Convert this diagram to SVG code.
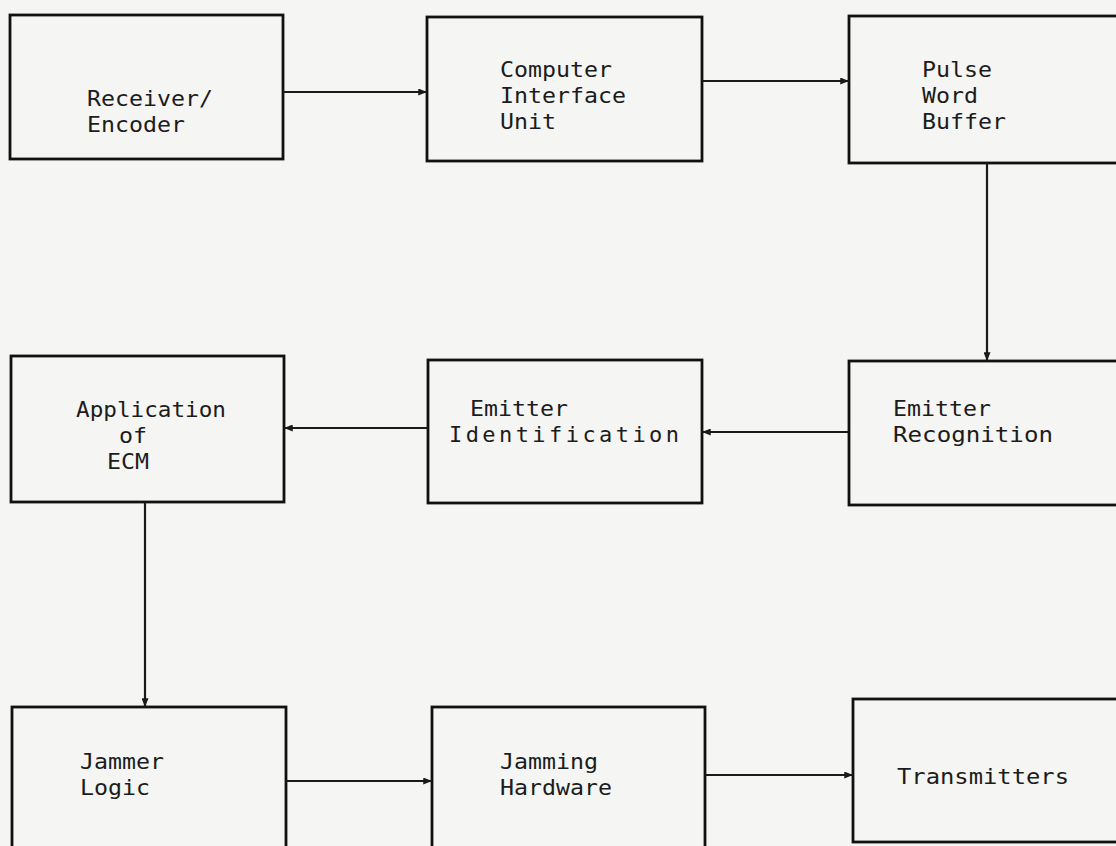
<svg xmlns="http://www.w3.org/2000/svg" width="1116" height="846" viewBox="0 0 1116 846">
<style>
.box{fill:none;stroke:#111;stroke-width:2.8}
.t{font-family:"DejaVu Sans Mono","Liberation Mono",monospace;font-size:22px;fill:#1c1c1c}
.c{stroke:#1a1a1a;stroke-width:2.2;fill:none;marker-end:url(#ah)}
</style>
<defs>
<marker id="ah" viewBox="0 0 10 8" refX="10" refY="4" markerWidth="10" markerHeight="7" markerUnits="userSpaceOnUse" orient="auto">
<path d="M0,0 L10,4 L0,8 z" fill="#1a1a1a"/>
</marker>
</defs>
<rect width="1116" height="846" fill="#f5f5f3"/>
<g id="n1"><rect class="box" x="10" y="15" width="273" height="144"/><text class="t" x="87" y="106" textLength="126" lengthAdjust="spacingAndGlyphs">Receiver/</text><text class="t" x="87" y="132" textLength="98" lengthAdjust="spacingAndGlyphs">Encoder</text></g>
<g id="n2"><rect class="box" x="427" y="17" width="275" height="144"/><text class="t" x="500" y="77" textLength="112" lengthAdjust="spacingAndGlyphs">Computer</text><text class="t" x="500" y="103" textLength="126" lengthAdjust="spacingAndGlyphs">Interface</text><text class="t" x="500" y="129" textLength="56" lengthAdjust="spacingAndGlyphs">Unit</text></g>
<g id="n3"><rect class="box" x="849" y="16" width="290" height="147"/><text class="t" x="922" y="77" textLength="70" lengthAdjust="spacingAndGlyphs">Pulse</text><text class="t" x="922" y="103" textLength="56" lengthAdjust="spacingAndGlyphs">Word</text><text class="t" x="922" y="129" textLength="84" lengthAdjust="spacingAndGlyphs">Buffer</text></g>
<g id="n4"><rect class="box" x="11" y="356" width="273" height="146"/><text class="t" x="76" y="417" textLength="150" lengthAdjust="spacingAndGlyphs">Application</text><text class="t" x="119" y="443" textLength="28" lengthAdjust="spacingAndGlyphs">of</text><text class="t" x="107" y="469" textLength="42" lengthAdjust="spacingAndGlyphs">ECM</text></g>
<g id="n5"><rect class="box" x="428" y="360" width="274" height="143"/><text class="t" x="470" y="416" textLength="98" lengthAdjust="spacingAndGlyphs">Emitter</text><text class="t" x="449" y="442" textLength="230" lengthAdjust="spacing">Identification</text></g>
<g id="n6"><rect class="box" x="849" y="361" width="290" height="144"/><text class="t" x="893" y="416" textLength="98" lengthAdjust="spacingAndGlyphs">Emitter</text><text class="t" x="893" y="442" textLength="160" lengthAdjust="spacingAndGlyphs">Recognition</text></g>
<g id="n7"><rect class="box" x="12" y="707" width="274" height="200"/><text class="t" x="80" y="769" textLength="84" lengthAdjust="spacingAndGlyphs">Jammer</text><text class="t" x="80" y="795" textLength="70" lengthAdjust="spacingAndGlyphs">Logic</text></g>
<g id="n8"><rect class="box" x="432" y="707" width="273" height="200"/><text class="t" x="500" y="769" textLength="98" lengthAdjust="spacingAndGlyphs">Jamming</text><text class="t" x="500" y="795" textLength="112" lengthAdjust="spacingAndGlyphs">Hardware</text></g>
<g id="n9"><rect class="box" x="853" y="699" width="290" height="143"/><text class="t" x="897" y="784" textLength="172" lengthAdjust="spacingAndGlyphs">Transmitters</text></g>
<g id="connectors">
<line class="c" x1="283" y1="92" x2="427" y2="92"/>
<line class="c" x1="702" y1="81" x2="849" y2="81"/>
<line class="c" x1="987" y1="163" x2="987" y2="361"/>
<line class="c" x1="849" y1="432" x2="702" y2="432"/>
<line class="c" x1="428" y1="428" x2="284" y2="428"/>
<line class="c" x1="145" y1="502" x2="145" y2="707"/>
<line class="c" x1="286" y1="781" x2="432" y2="781"/>
<line class="c" x1="705" y1="775" x2="853" y2="775"/>
</g>
</svg>
